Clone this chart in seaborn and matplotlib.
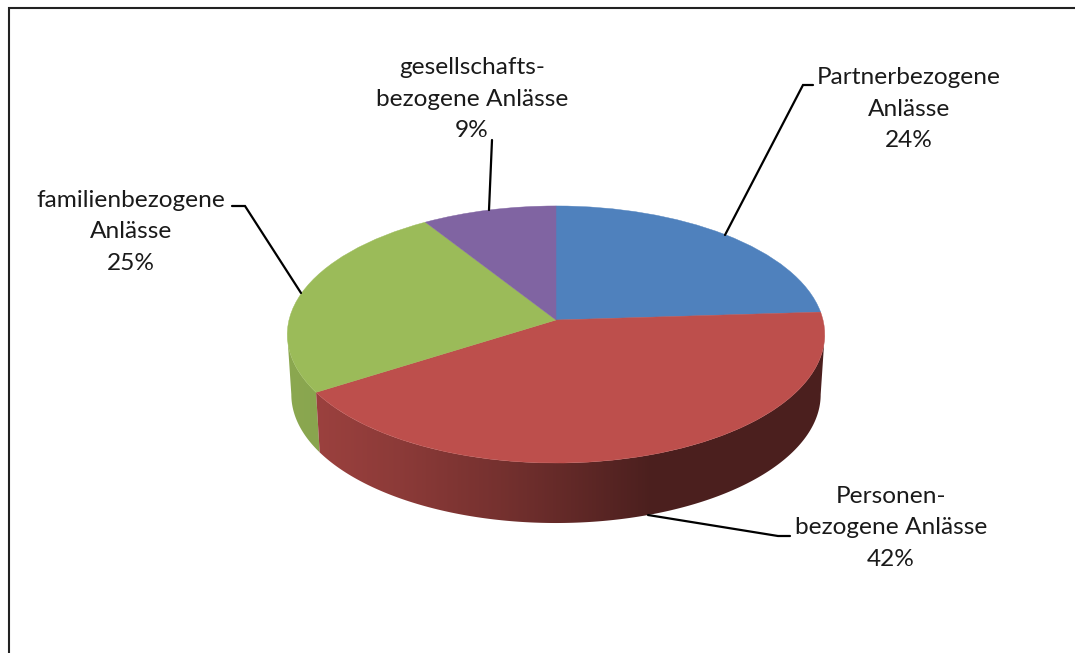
import numpy as np
import matplotlib
matplotlib.use("Agg")
import matplotlib.pyplot as plt
import matplotlib.transforms as mtransforms
import matplotlib.colors as mcolors
from matplotlib.patches import Polygon
import seaborn as sns

# data
categories = ["Partnerbezogene\nAnlässe", "Personen-\nbezogene Anlässe",
              "familienbezogene\nAnlässe", "gesellschafts-\nbezogene Anlässe"]
values = [24, 42, 25, 9]
colors = ["#4F81BD", "#BD4F4C", "#9BBB59", "#8064A2"]

# layout (pixels)
W, H = 1075, 653
CX, APEX_Y = 556, 320
A, B, K = 267.0, 126.9, 0.1127
DEPTH = 60
label_pos = [(909, 109), (891, 528), (131, 232), (472, 99)]
leaders = [[(725, 235), (803, 85), (813, 85)],
           [(648, 515), (778, 536), (790, 536)],
           [(301, 293), (245, 206), (232, 206)],
           [(489, 210), (492, 140)]]

sns.set_theme(style="white")
plt.rcParams["font.family"] = ["Lato", "DejaVu Sans"]


class Perspective(mtransforms.Transform):
    input_dims = 2
    output_dims = 2
    is_separable = False

    def transform_non_affine(self, values):
        v = np.asarray(values, dtype=float)
        w = 1 + K * v[:, 1]
        return np.column_stack([CX + A * v[:, 0] / w, APEX_Y - B * v[:, 1] / w])


persp = Perspective()


def rim(angle_deg):
    """angle clockwise from the top of the pie"""
    t = np.radians(angle_deg)
    return persp.transform_non_affine(np.column_stack([np.sin(t), np.cos(t)]))


fig = plt.figure(figsize=(W / 100, H / 100), dpi=100, facecolor="white")
ax = fig.add_axes([0, 0, 1, 1])

bounds = np.cumsum([0] + values) * 3.6
# rim angles at which the ellipse reaches its left and right extremes
ext = np.degrees(np.arccos(-K))
left_ext, right_ext = 360 - ext, ext

# side walls: a horizontal gradient clipped to the wall outline
side_stops = {
    1: [(318, 0.82), (400, 0.74), (500, 0.62), (570, 0.52), (650, 0.40), (830, 0.40)],
    2: [(285, 0.90), (325, 0.88)],
}
for order, (idx, a0, a1) in enumerate([(2, bounds[2], left_ext),
                                       (1, right_ext, bounds[2])]):
    th = np.linspace(a0, a1, 300)
    top = rim(th)
    bot = np.column_stack([CX + 0.985 * (top[:, 0] - CX), top[:, 1] + DEPTH])
    outline = np.vstack([top, bot[::-1]])
    x0, x1 = outline[:, 0].min() - 2, outline[:, 0].max() + 2
    y0, y1 = outline[:, 1].min() - 2, outline[:, 1].max() + 2
    xs = np.linspace(x0, x1, 512)
    xp, fp = zip(*side_stops[idx])
    rgb = np.outer(np.interp(xs, xp, fp), mcolors.to_rgb(colors[idx]))[None, :, :]
    im = ax.imshow(rgb, extent=(x0, x1, y1, y0), aspect="auto",
                   interpolation="bilinear", zorder=2 + order)
    im.set_clip_path(Polygon(outline, closed=True, transform=ax.transData))

# top face
wedges, _ = ax.pie(values, colors=colors, startangle=90, counterclock=False,
                   radius=1, center=(0, 0))
for w, c in zip(wedges, colors):
    w.set_transform(persp + ax.transData)
    w.set_edgecolor(c)
    w.set_linewidth(0.3)
    w.set_zorder(5)

ax.set_aspect("auto")
ax.set_xlim(0, W)
ax.set_ylim(H, 0)
ax.set_axis_off()

# leader lines and labels
for seg in leaders:
    xs, ys = zip(*seg)
    ax.plot(xs, ys, color="black", lw=1.6, zorder=6, solid_joinstyle="miter")
for name, v, (x, y) in zip(categories, values, label_pos):
    ax.text(x, y, f"{name}\n{v}%", ha="center", va="center",
            fontsize=17.6, color="#1a1a1a", linespacing=1.63, zorder=7)

# frame of the original screenshot
ax.plot([8.5, 8.5, W], [H, 8, 8], color="#222222", lw=1.5, zorder=8,
        solid_joinstyle="miter", clip_on=False)

fig.savefig("out.png", dpi=100, facecolor="white")
